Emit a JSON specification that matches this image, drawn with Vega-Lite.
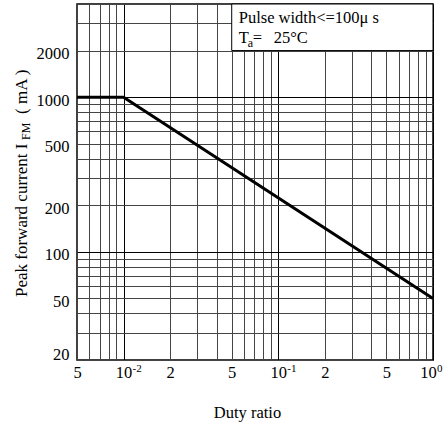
{
  "$schema": "https://vega.github.io/schema/vega-lite/v6.json",
  "width": 356,
  "height": 356,
  "autosize": "none",
  "padding": {"left": 77, "top": 4, "right": 11, "bottom": 65},
  "background": "white",
  "config": {
    "font": "Liberation Serif",
    "view": {"stroke": "black", "strokeWidth": 1.5},
    "axis": {
      "labelFont": "Liberation Serif",
      "labelFontSize": 16.5,
      "labelColor": "black",
      "titleFont": "Liberation Serif",
      "titleFontSize": 16.5,
      "titleFontWeight": "normal",
      "titleColor": "black",
      "domain": false,
      "ticks": false,
      "tickSize": 0,
      "labelFlush": false,
      "labelOverlap": false,
      "labelBound": false,
      "gridWidth": 1,
      "gridOpacity": 1
    },
    "text": {"font": "Liberation Serif", "color": "black"}
  },
  "datasets": {
    "curve": [
      {"duty": 0.005, "current": 1000},
      {"duty": 0.01, "current": 1000},
      {"duty": 1, "current": 50}
    ],
    "box": [{"duty": 0.05, "duty2": 1, "current": 2000, "current2": 4000}],
    "note1": [{"duty": 0.05, "current": 4000, "label": "Pulse width<=100μ s"}],
    "noteT": [{"duty": 0.05, "current": 4000, "label": "T"}],
    "noteA": [{"duty": 0.05, "current": 4000, "label": "a"}],
    "noteEq": [{"duty": 0.05, "current": 4000, "label": "="}],
    "noteTemp": [{"duty": 0.05, "current": 4000, "label": "25°C"}],
    "exps": [
      {"duty": 0.01, "current": 20, "label": "-2"},
      {"duty": 0.1, "current": 20, "label": "-1"}
    ],
    "expLast": [{"duty": 1, "current": 20, "label": "0"}],
    "ytitle1": [{"duty": 0.005, "current": 20, "label": "Peak forward current I"}],
    "ytitle2": [{"duty": 0.005, "current": 20, "label": "FM"}],
    "ytitle3": [{"duty": 0.005, "current": 20, "label": "( mA )"}]
  },
  "encoding": {
    "x": {
      "field": "duty",
      "type": "quantitative",
      "scale": {"type": "log", "domain": [0.005, 1], "nice": false},
      "axis": {
        "title": "Duty ratio",
        "titleX": 170,
        "titleY": 57,
        "titleAlign": "center",
        "titleBaseline": "alphabetic",
        "labelPadding": 4,
        "labelBaseline": "top",
        "labelOffset": {"condition": {"test": "datum.value == 1", "value": -5}, "value": 0},
        "values": [0.005, 0.006, 0.007, 0.008, 0.009, 0.01, 0.02, 0.03, 0.04, 0.05, 0.06, 0.07, 0.08, 0.09, 0.1, 0.2, 0.3, 0.4, 0.5, 0.6, 0.7, 0.8, 0.9, 1],
        "labelExpr": "indexof([0.005, 0.05, 0.5], datum.value) >= 0 ? '5' : indexof([0.02, 0.2], datum.value) >= 0 ? '2' : indexof([0.01, 0.1, 1], datum.value) >= 0 ? '10' : ''",
        "gridColor": {"condition": {"test": "indexof([0.01, 0.1, 1], datum.value) >= 0", "value": "black"}, "value": "#444444"}
      }
    },
    "y": {
      "field": "current",
      "type": "quantitative",
      "scale": {"type": "log", "domain": [20, 4000], "nice": false},
      "axis": {
        "title": null,
        "labelPadding": 8,
        "labelAlign": "right",
        "labelBaseline": "middle",
        "labelOffset": {"condition": {"test": "datum.value == 20", "value": -6}, "value": 3},
        "values": [20, 30, 40, 50, 60, 70, 80, 90, 100, 200, 300, 400, 500, 600, 700, 800, 900, 1000, 2000, 3000, 4000],
        "labelExpr": "indexof([20, 50, 100, 200, 500, 1000, 2000], datum.value) >= 0 ? datum.value : ''",
        "gridColor": {"condition": {"test": "indexof([100, 1000], datum.value) >= 0", "value": "black"}, "value": "#444444"}
      }
    }
  },
  "layer": [
    {
      "data": {"name": "box"},
      "mark": {"type": "rect", "fill": "white", "stroke": "black", "strokeWidth": 1},
      "encoding": {"x2": {"field": "duty2"}, "y2": {"field": "current2"}}
    },
    {
      "data": {"name": "curve"},
      "mark": {"type": "line", "color": "black", "strokeWidth": 3}
    },
    {
      "data": {"name": "note1"},
      "mark": {"type": "text", "font": "Liberation Serif", "align": "left", "baseline": "alphabetic", "dx": 7, "dy": 19, "fontSize": 16.5},
      "encoding": {"text": {"field": "label"}}
    },
    {
      "data": {"name": "noteT"},
      "mark": {"type": "text", "font": "Liberation Serif", "align": "left", "baseline": "alphabetic", "dx": 7, "dy": 39, "fontSize": 16.5},
      "encoding": {"text": {"field": "label"}}
    },
    {
      "data": {"name": "noteA"},
      "mark": {"type": "text", "font": "Liberation Serif", "align": "left", "baseline": "alphabetic", "dx": 16, "dy": 43, "fontSize": 12},
      "encoding": {"text": {"field": "label"}}
    },
    {
      "data": {"name": "noteEq"},
      "mark": {"type": "text", "font": "Liberation Serif", "align": "left", "baseline": "alphabetic", "dx": 21, "dy": 39, "fontSize": 16.5},
      "encoding": {"text": {"field": "label"}}
    },
    {
      "data": {"name": "noteTemp"},
      "mark": {"type": "text", "font": "Liberation Serif", "align": "left", "baseline": "alphabetic", "dx": 42, "dy": 39, "fontSize": 16.5},
      "encoding": {"text": {"field": "label"}}
    },
    {
      "data": {"name": "exps"},
      "mark": {"type": "text", "font": "Liberation Serif", "align": "left", "baseline": "alphabetic", "dx": 9, "dy": 12, "fontSize": 11, "clip": false},
      "encoding": {"text": {"field": "label"}}
    },
    {
      "data": {"name": "expLast"},
      "mark": {"type": "text", "font": "Liberation Serif", "align": "left", "baseline": "alphabetic", "dx": 4, "dy": 12, "fontSize": 11, "clip": false},
      "encoding": {"text": {"field": "label"}}
    },
    {
      "data": {"name": "ytitle1"},
      "mark": {"type": "text", "font": "Liberation Serif", "angle": 270, "align": "left", "baseline": "alphabetic", "dx": 63, "dy": -50, "fontSize": 17},
      "encoding": {"text": {"field": "label"}}
    },
    {
      "data": {"name": "ytitle2"},
      "mark": {"type": "text", "font": "Liberation Serif", "angle": 270, "align": "left", "baseline": "alphabetic", "dx": 220, "dy": -47, "fontSize": 12},
      "encoding": {"text": {"field": "label"}}
    },
    {
      "data": {"name": "ytitle3"},
      "mark": {"type": "text", "font": "Liberation Serif", "angle": 270, "align": "left", "baseline": "alphabetic", "dx": 246, "dy": -50, "fontSize": 17},
      "encoding": {"text": {"field": "label"}}
    }
  ]
}
